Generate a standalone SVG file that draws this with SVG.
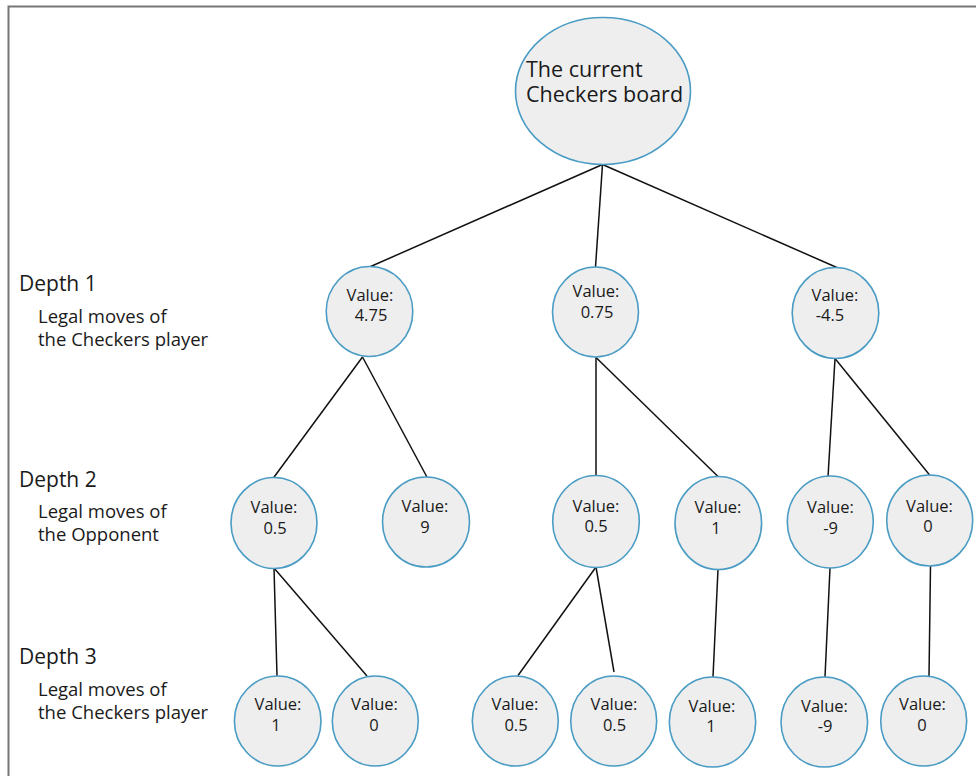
<svg xmlns="http://www.w3.org/2000/svg" width="976" height="776" viewBox="0 0 976 776">
  <style>
    .node { fill: #eeeeee; stroke: #4a9cc4; stroke-width: 1.6; }
    .edge { stroke: #111111; stroke-width: 1.5; fill: none; }
    .val { font-family: "Open Sans", "Liberation Sans", sans-serif; font-size: 16.5px; fill: #1a1a1a; text-anchor: middle; }
    .root { font-family: "Open Sans", "Liberation Sans", sans-serif; font-size: 21.5px; fill: #1a1a1a; }
    .depth { font-family: "Open Sans", "Liberation Sans", sans-serif; font-size: 21px; fill: #1a1a1a; }
    .desc { font-family: "Open Sans", "Liberation Sans", sans-serif; font-size: 18.5px; fill: #1a1a1a; }
  </style>
  <rect width="976" height="776" fill="#ffffff"/>
  <!-- frame -->
  <path d="M8.5 776 V6.5 H976" fill="none" stroke="#777777" stroke-width="2"/>

  <!-- level labels -->
  <g id="labels">
    <text class="depth" x="19" y="291">Depth 1</text>
    <text class="desc" x="38" y="323">Legal moves of</text>
    <text class="desc" x="38" y="346">the Checkers player</text>
    <text class="depth" x="19" y="487">Depth 2</text>
    <text class="desc" x="38" y="518">Legal moves of</text>
    <text class="desc" x="38" y="541">the Opponent</text>
    <text class="depth" x="19" y="664">Depth 3</text>
    <text class="desc" x="38" y="696">Legal moves of</text>
    <text class="desc" x="38" y="719">the Checkers player</text>
  </g>

  <!-- connectors -->
  <g id="connectors">
    <line class="edge" x1="602.5" y1="164.5" x2="369.5" y2="267"/>
    <line class="edge" x1="602.5" y1="164.5" x2="595.5" y2="267"/>
    <line class="edge" x1="602.5" y1="164.5" x2="838" y2="268"/>
    <line class="edge" x1="362.5" y1="357" x2="273" y2="478.5"/>
    <line class="edge" x1="362.5" y1="357" x2="428" y2="479"/>
    <line class="edge" x1="596" y1="357.5" x2="596" y2="475.5"/>
    <line class="edge" x1="596" y1="357.5" x2="718" y2="476.5"/>
    <line class="edge" x1="835" y1="358.5" x2="828" y2="477"/>
    <line class="edge" x1="835" y1="358.5" x2="930" y2="475.5"/>
    <line class="edge" x1="274" y1="568" x2="277" y2="676"/>
    <line class="edge" x1="274" y1="568" x2="367" y2="676"/>
    <line class="edge" x1="596" y1="567" x2="518" y2="675.5"/>
    <line class="edge" x1="596" y1="567" x2="614" y2="672"/>
    <line class="edge" x1="718" y1="569.5" x2="713" y2="677"/>
    <line class="edge" x1="830" y1="568" x2="825" y2="677"/>
    <line class="edge" x1="930.5" y1="566" x2="929" y2="676"/>
  </g>

  <!-- root -->
  <g id="root">
    <ellipse class="node" cx="603" cy="91" rx="87.5" ry="73.5"/>
    <text class="root" x="526" y="77">The current</text>
    <text class="root" x="526" y="102">Checkers board</text>
  </g>

  <!-- depth 1 -->
  <g id="d1-a">
    <ellipse class="node" cx="369.5" cy="311.5" rx="43.3" ry="45"/>
    <text class="val" x="370" y="301">Value:</text>
    <text class="val" x="371" y="321">4.75</text>
  </g>
  <g id="d1-b">
    <ellipse class="node" cx="595.5" cy="312" rx="43" ry="45"/>
    <text class="val" x="596" y="297">Value:</text>
    <text class="val" x="597" y="318">0.75</text>
  </g>
  <g id="d1-c">
    <ellipse class="node" cx="835.5" cy="313" rx="43.3" ry="45.5"/>
    <text class="val" x="835" y="300.5">Value:</text>
    <text class="val" x="830" y="321">-4.5</text>
  </g>

  <!-- depth 2 -->
  <g id="d2-a">
    <ellipse class="node" cx="274" cy="523" rx="43" ry="45.5"/>
    <text class="val" x="274" y="513">Value:</text>
    <text class="val" x="275" y="534">0.5</text>
  </g>
  <g id="d2-b">
    <ellipse class="node" cx="426" cy="522" rx="43.5" ry="45"/>
    <text class="val" x="425" y="512">Value:</text>
    <text class="val" x="425" y="533">9</text>
  </g>
  <g id="d2-c">
    <ellipse class="node" cx="596" cy="521.5" rx="43.3" ry="46"/>
    <text class="val" x="596" y="512">Value:</text>
    <text class="val" x="596" y="532">0.5</text>
  </g>
  <g id="d2-d">
    <ellipse class="node" cx="718.3" cy="523" rx="43.3" ry="46.5"/>
    <text class="val" x="718" y="513">Value:</text>
    <text class="val" x="716" y="534">1</text>
  </g>
  <g id="d2-e">
    <ellipse class="node" cx="830.3" cy="522" rx="43" ry="46"/>
    <text class="val" x="830.5" y="513">Value:</text>
    <text class="val" x="830.5" y="534">-9</text>
  </g>
  <g id="d2-f">
    <ellipse class="node" cx="929.7" cy="520.5" rx="43" ry="45.5"/>
    <text class="val" x="929.5" y="511.5">Value:</text>
    <text class="val" x="928" y="532">0</text>
  </g>

  <!-- depth 3 -->
  <g id="d3-a">
    <ellipse class="node" cx="277.7" cy="721" rx="43.3" ry="45"/>
    <text class="val" x="278" y="710">Value:</text>
    <text class="val" x="276" y="730.5">1</text>
  </g>
  <g id="d3-b">
    <ellipse class="node" cx="375.3" cy="721" rx="43" ry="45"/>
    <text class="val" x="374.5" y="710">Value:</text>
    <text class="val" x="374" y="730.5">0</text>
  </g>
  <g id="d3-c">
    <ellipse class="node" cx="515.3" cy="721" rx="43" ry="45"/>
    <text class="val" x="515" y="710">Value:</text>
    <text class="val" x="516" y="730.5">0.5</text>
  </g>
  <g id="d3-d">
    <ellipse class="node" cx="613.7" cy="721" rx="43" ry="45"/>
    <text class="val" x="614" y="710">Value:</text>
    <text class="val" x="614.5" y="730.5">0.5</text>
  </g>
  <g id="d3-e">
    <ellipse class="node" cx="712.5" cy="722" rx="43.2" ry="45"/>
    <text class="val" x="712" y="711.5">Value:</text>
    <text class="val" x="711" y="732">1</text>
  </g>
  <g id="d3-f">
    <ellipse class="node" cx="824.3" cy="722" rx="43.3" ry="45"/>
    <text class="val" x="824.5" y="711.5">Value:</text>
    <text class="val" x="825" y="732">-9</text>
  </g>
  <g id="d3-g">
    <ellipse class="node" cx="923.7" cy="721" rx="43" ry="45"/>
    <text class="val" x="922.5" y="710">Value:</text>
    <text class="val" x="922" y="730.5">0</text>
  </g>
</svg>
